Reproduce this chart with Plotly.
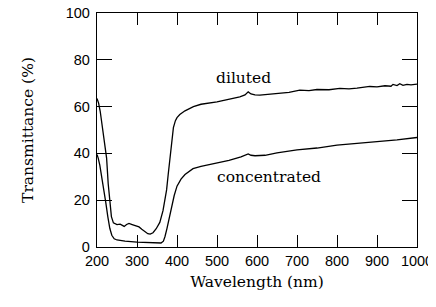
import plotly.graph_objects as go

wl_diluted = [200, 204, 208, 212, 216, 220, 224, 228, 232, 236, 241, 250, 258, 263, 268, 274, 280, 288,
              298, 305, 312, 320, 327, 333, 340, 348, 357, 365, 370, 374, 378, 382.5, 387, 391, 396, 400,
              407, 420, 441, 460, 500, 530, 557, 570, 578, 585, 595, 607, 630, 650, 680, 707, 730, 750,
              780, 807, 830, 850, 865, 882, 900, 920, 935, 940, 950, 957, 965, 975, 985, 1000]
t_diluted = [63.5, 61.5, 58, 53, 48, 43, 38, 27, 18, 13, 10.3, 9.6, 9.8, 9.2, 8.8, 9.6, 10.1, 9.6,
             9.2, 8.6, 7.6, 6.4, 5.7, 5.5, 6.1, 7.8, 10.5, 15.5, 20, 24.4, 31, 38.5, 45.5, 51, 54, 55.3,
             56.6, 58.2, 60, 61, 62, 63, 64.2, 65, 66.3, 65.4, 65, 64.9, 65.3, 65.8, 66.1, 67, 66.8, 67.3,
             67.2, 67.8, 67.6, 67.9, 68.3, 68.6, 68.4, 68.9, 68.7, 69.5, 69.0, 69.8, 69.1, 69.5, 69.3, 69.6]

wl_conc = [200, 203, 207, 212, 217, 222, 227, 232, 237, 243, 250, 270, 300, 330, 360, 366, 370, 375, 380,
           387, 393, 400, 410, 420, 440, 460, 500, 530, 560, 572, 578, 585, 595, 620, 650, 700, 750, 800,
           850, 900, 950, 1000]
t_conc = [39.5, 38, 35, 30, 25, 19, 13, 8, 5, 3.5, 3, 2.5, 2.1, 1.8, 1.7, 2.5, 4.5, 8, 12,
          17.5, 22, 26, 29, 31, 33.5, 34.5, 36, 37, 38.5, 39.2, 39.8, 39.2, 39, 39.2, 40.2, 41.5, 42.3, 43.5,
          44.2, 45, 45.8, 46.8]

x_ticks = [200, 300, 400, 500, 600, 700, 800, 900, 1000]
y_ticks = [0, 20, 40, 60, 80, 100]

labels = ["diluted", "concentrated"]
label_x = [567, 631]
label_y = [72.2, 30]

serif = "DejaVu Serif"
sans = "Liberation Sans, Arial, sans-serif"

fig = go.Figure()
fig.add_trace(go.Scatter(x=wl_diluted, y=t_diluted, mode="lines",
                         line=dict(color="black", width=1.3)))
fig.add_trace(go.Scatter(x=wl_conc, y=t_conc, mode="lines",
                         line=dict(color="black", width=1.3)))

for txt, lx, ly in zip(labels, label_x, label_y):
    fig.add_annotation(x=lx, y=ly, text=txt, showarrow=False,
                       font=dict(family=serif, size=15.5, color="black"))

axis_common = dict(showline=True, linecolor="black", linewidth=1.3, mirror="ticks",
                   ticks="inside", tickcolor="black", tickwidth=1.3, showgrid=False,
                   zeroline=False, automargin=False, ticklabeloverflow="allow")

fig.update_xaxes(range=[200, 1000], tickvals=x_ticks, ticklen=12, ticklabelstandoff=0,
                 tickfont=dict(family=sans, size=14.5, color="black"),
                 title=dict(text="Wavelength (nm)", font=dict(family=serif, size=15.5, color="black"),
                            standoff=8),
                 **axis_common)
fig.update_yaxes(range=[0, 100], tickvals=y_ticks, ticklen=15, ticklabelstandoff=3,
                 tickfont=dict(family=sans, size=14.5, color="black"),
                 title=dict(text="Transmittance (%)", font=dict(family=serif, size=15.5, color="black"),
                            standoff=28),
                 **axis_common)

# page body has an 8px margin; size the figure so the plot area lands where the reference has it
fig.update_layout(width=428, height=299, margin=dict(l=89, r=19, t=5, b=60),
                  paper_bgcolor="white", plot_bgcolor="white", showlegend=False)

fig.write_html("out.html")
